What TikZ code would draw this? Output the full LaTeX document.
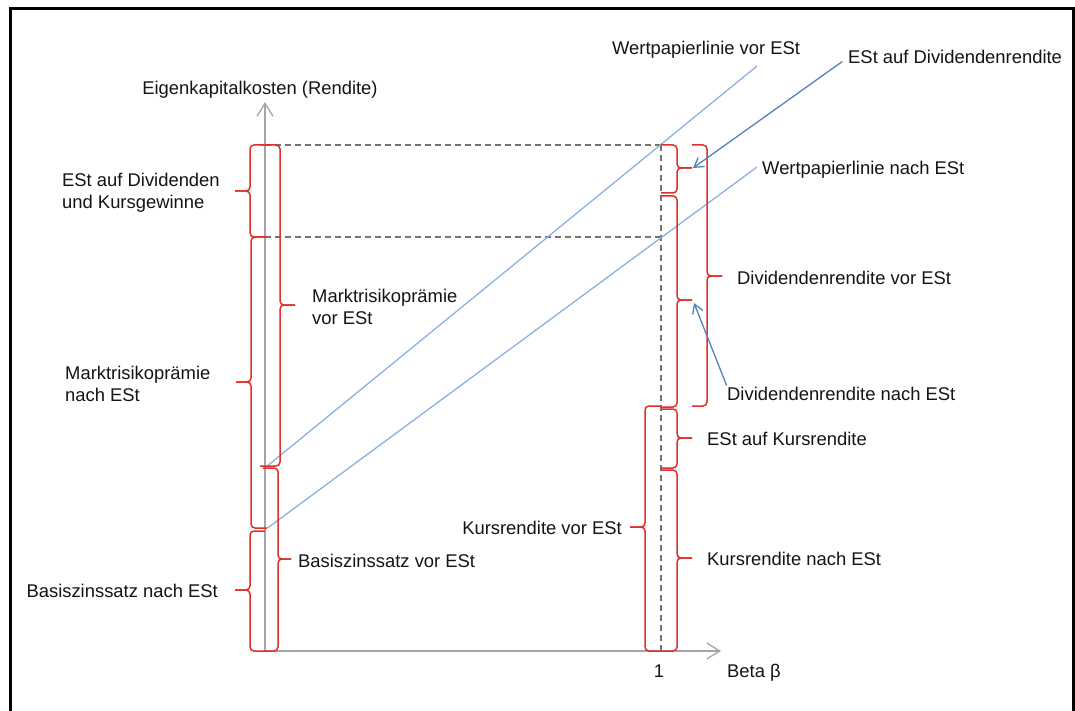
\documentclass[tikz,border=0pt]{standalone}
\usepackage{fontspec}
\setmainfont{Liberation Sans}
\usetikzlibrary{arrows.meta}
\definecolor{bracered}{RGB}{222,48,44}
\definecolor{lineblue}{RGB}{140,178,224}
\definecolor{arrowblue}{RGB}{84,130,190}
\definecolor{axisgray}{RGB}{165,165,165}
\definecolor{dashgray}{RGB}{115,115,115}
\tikzset{
  brace/.style={draw=bracered, line width=1.5pt, rounded corners=4pt},
  lbl/.style={font=\fontsize{18.4}{22}\selectfont, inner sep=0pt, text=black!92, align=left},
  axis/.style={draw=axisgray, line width=1.3pt},
  axisarrow/.style={axis, -{Straight Barb[length=13pt,width=16pt,line width=1.3pt]}},
  guide/.style={draw=dashgray, line width=1.2pt, dash pattern=on 6pt off 4pt},
  wpl/.style={draw=lineblue, line width=1.3pt},
  callout/.style={draw=arrowblue, line width=1.3pt, -{Straight Barb[length=9pt,width=11pt,line width=1.3pt]}},
  frame/.style={draw=black, line width=3pt}
}
% right brace: vertical x, top y, tip y, bottom y, hook length, tip length
\newcommand\RBrace[6]{%
  \draw[brace] (#1-#5,#2) -- (#1,#2) -- (#1,#3) -- (#1+#6,#3);
  \draw[brace] (#1-#5,#4) -- (#1,#4) -- (#1,#3) -- (#1+#6,#3);}
% left brace
\newcommand\LBrace[6]{%
  \draw[brace] (#1+#5,#2) -- (#1,#2) -- (#1,#3) -- (#1-#6,#3);
  \draw[brace] (#1+#5,#4) -- (#1,#4) -- (#1,#3) -- (#1-#6,#3);}
\begin{document}
\begin{tikzpicture}[x=1pt,y=-1pt]
\useasboundingbox (0,0) rectangle (1075,711);
\fill[white] (0,0) rectangle (1075,711);
% frame (bottom edge lies outside the picture)
\draw[frame] (10.8,711) -- (10.8,8.7) -- (1073,8.7) -- (1073,711);

% coordinates
\coordinate (O) at (265,651);
\coordinate (ytop) at (265,102);
\coordinate (xend) at (721,651);
\coordinate (pA) at (265,145);
\coordinate (pB) at (265,237);
\coordinate (qA) at (661,145);
\coordinate (qB) at (661,237);
\coordinate (qO) at (661,651);

% dashed guides
\draw[guide] (pA) -- (qA);
\draw[guide] (pB) -- (qB);
\draw[guide] (qA) -- (qO);

% security market lines
\coordinate (wv0) at (266,467);
\coordinate (wv1) at (757,66);
\coordinate (wn0) at (267.5,528);
\coordinate (wn1) at (757,167);
\draw[wpl] (wv0) -- (wv1);
\draw[wpl] (wn0) -- (wn1);

% axes
\draw[axisarrow] (O) -- (ytop);
\draw[axisarrow] (O) -- (xend);

% braces on the left axis
\LBrace{250}{145}{191}{237}{15}{15}
\RBrace{280}{145}{305}{466}{20}{15}
\LBrace{251}{237}{382}{528}{16}{15}
\RBrace{278}{468}{559}{651}{15}{13}
\LBrace{250}{531}{590}{651}{15}{15}

% braces at beta = 1
\RBrace{677}{145}{168}{193}{16}{15}
\RBrace{677}{196}{300}{407}{16}{15}
\RBrace{707}{145}{276}{406}{15}{15}
\RBrace{677}{409}{438}{468}{16}{15}
\RBrace{677}{470}{558}{651}{16}{15}
\LBrace{645}{406}{527}{651}{16}{15}

% labels
\node[lbl, anchor=base] (ylab) at (260,95) {Eigenkapitalkosten (Rendite)};
\node[lbl, anchor=west] (estdk) at (62,193) {\fontsize{18.4}{20}\selectfont ESt auf Dividenden\\und Kursgewinne};
\node[lbl, anchor=west] (mrpv) at (312,307) {Marktrisikoprämie\\vor ESt};
\node[lbl, anchor=west] (mrpn) at (65,384) {Marktrisikoprämie\\nach ESt};
\node[lbl, anchor=base east] (bzn) at (218,597) {Basiszinssatz nach ESt};
\node[lbl, anchor=base west] (bzv) at (298,567) {Basiszinssatz vor ESt};
\node[lbl, anchor=base west] (wpv) at (612,55) {Wertpapierlinie vor ESt};
\node[lbl, anchor=base west] (estdr) at (848,64) {ESt auf Dividendenrendite};
\node[lbl, anchor=base west] (wpn) at (762,175) {Wertpapierlinie nach ESt};
\node[lbl, anchor=base west] (drv) at (737,284) {Dividendenrendite vor ESt};
\node[lbl, anchor=base west] (drn) at (727,400) {Dividendenrendite nach ESt};
\node[lbl, anchor=base west] (estk) at (707,445) {ESt auf Kursrendite};
\node[lbl, anchor=base east] (krv) at (622,534) {Kursrendite vor ESt};
\node[lbl, anchor=base west] (krn) at (707,565) {Kursrendite nach ESt};
\node[lbl, anchor=base] (one) at (659,677) {1};
\node[lbl, anchor=base west] (beta) at (727,677) {Beta β};

% callout arrows
\coordinate (c1) at (693,168);
\coordinate (c2) at (694,303);
\draw[callout, shorten <=7pt] (estdr.west) -- (c1);
\draw[callout, shorten <=1pt] (drn.north west) -- (c2);
\end{tikzpicture}
\end{document}
